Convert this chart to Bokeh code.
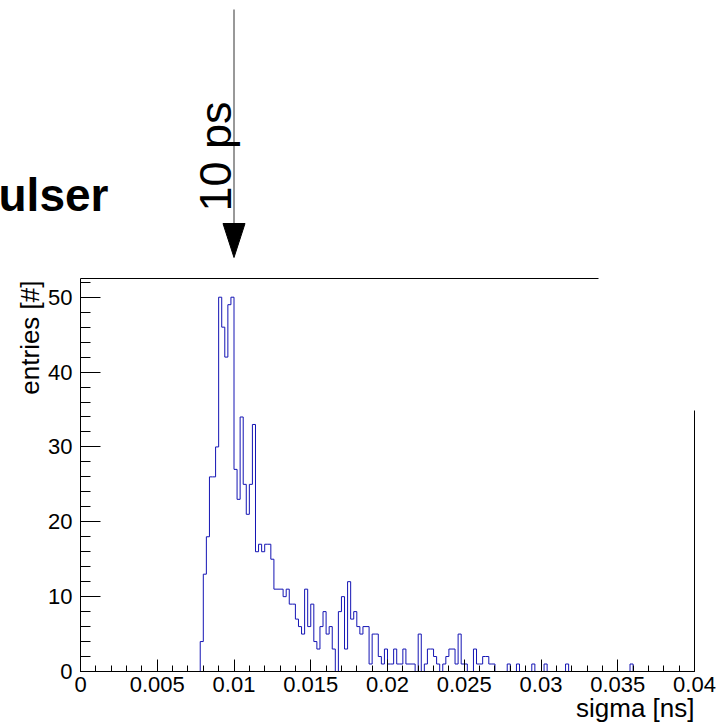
import numpy as np
from bokeh.plotting import figure
from bokeh.models import Range1d, FixedTicker, Label
from bokeh.embed import file_html
from bokeh.resources import INLINE

# ---------------- data ----------------
title_text = "ulser"
x_title = "sigma [ns]"
y_title = "entries [#]"
arrow_text = "10 ps"
arrow_x = 0.01          # ns (10 ps marker)

n_bins = 200
x_min, x_max = 0.0, 0.04
y_max = 52.5
first_bin = 39
counts = [4, 13, 18, 26, 26, 30, 50, 46, 42, 49,          # 39-48
          50, 27, 23, 34, 25, 21, 25, 33, 16, 17,         # 49-58
          16, 17, 17, 15, 11, 11, 11, 10, 11, 9,          # 59-68
          9, 7, 6, 5, 11, 6, 9, 4, 3, 6,                  # 69-78
          8, 5, 6, 3, 0, 8, 10, 3, 12, 7,                 # 79-88
          8, 6, 5, 6, 6, 1, 5, 5, 2, 1,                   # 89-98
          3, 1, 1, 3, 1, 1, 3, 1, 1, 1,                   # 99-108
          0, 5, 0, 1, 3, 3, 2, 1, 0, 1,                   # 109-118
          2, 3, 3, 1, 5, 1, 1, 0, 0, 3,                   # 119-128
          1, 1, 2, 2, 1, 1, 0, 0, 0, 0,                   # 129-138
          1, 0, 0, 1, 0, 0, 0, 0, 1, 0,                   # 139-148
          0, 0, 1, 0, 0, 0, 0, 0, 0, 1,                   # 149-158
          0, 0, 0, 0, 0, 0, 0, 0, 0, 0,                   # 159-168
          0, 0, 0, 0, 0, 0, 0, 0, 0, 0,                   # 169-178
          1]                                              # 179

x_ticks = [0, 0.005, 0.01, 0.015, 0.02, 0.025, 0.03, 0.035, 0.04]
x_tick_labels = ["0", "0.005", "0.01", "0.015", "0.02", "0.025", "0.03", "0.035", "0.04"]
y_ticks = [0, 10, 20, 30, 40, 50]
y_tick_labels = ["0", "10", "20", "30", "40", "50"]

# ---------------- layout constants ----------------
W, H = 717, 722
BL, BR, BT, BB = 80, 23, 278, 51      # frame of the histogram inside the canvas
FONT = "Liberation Sans"
HIST_COLOR = "#1414b4"
BASE_SHIFT = 0.34                     # em correction for text baseline placement

fw = W - BL - BR
fh = H - BT - BB
dx = (x_max - x_min) / fw
dy = y_max / fh

def px_x(px):
    return x_min + (px - BL) * dx

def px_y(py):
    return (H - BB - py) * dy

full = np.zeros(n_bins)
full[first_bin:first_bin + len(counts)] = counts
edges = np.linspace(x_min, x_max, n_bins + 1)
ys = np.append(full, full[-1])

# the plotting frame covers the whole canvas; axes are pinned with fixed_location
p = figure(width=W, height=H,
           x_range=Range1d(px_x(0), px_x(W)), y_range=Range1d(px_y(H), px_y(0)),
           output_backend="svg", toolbar_location=None,
           min_border=0, min_border_left=0, min_border_right=0,
           min_border_top=0, min_border_bottom=0)
p.title.text = ""
p.title.visible = False
p.xgrid.visible = False
p.ygrid.visible = False
p.outline_line_color = None
p.background_fill_color = "white"
p.border_fill_color = "white"

p.step(edges, ys, mode="after", line_color=HIST_COLOR, line_width=1)

# partial frame lines (top and right)
p.segment(x0=[x_min], y0=[y_max], x1=[px_x(598)], y1=[y_max], line_color="black", line_width=1)
p.segment(x0=[x_max], y0=[0], x1=[x_max], y1=[px_y(410)], line_color="black", line_width=1)

# axes
xa = p.xaxis[0]
xa.fixed_location = 0
xa.bounds = (x_min, x_max)
xa.ticker = FixedTicker(ticks=x_ticks, minor_ticks=[round(v, 4) for v in np.arange(0, 0.0401, 0.001)])
xa.major_label_overrides = {t: l for t, l in zip(x_ticks, x_tick_labels)}
xa.major_tick_in = 12
xa.major_tick_out = 0
xa.minor_tick_in = 6
xa.minor_tick_out = 0
xa.major_label_standoff = 5
ya = p.yaxis[0]
ya.fixed_location = 0
ya.bounds = (0, y_max)
ya.ticker = FixedTicker(ticks=y_ticks, minor_ticks=list(range(0, 53, 2)))
ya.major_label_overrides = {t: l for t, l in zip(y_ticks, y_tick_labels)}
ya.major_tick_in = 20
ya.major_tick_out = 0
ya.minor_tick_in = 10
ya.minor_tick_out = 0
ya.major_label_standoff = 8
for ax in (xa, ya):
    ax.axis_line_color = "black"
    ax.major_tick_line_color = "black"
    ax.minor_tick_line_color = "black"
    ax.major_label_text_font = FONT
    ax.major_label_text_font_size = "22px"
    ax.major_label_text_color = "black"

# axis titles
p.add_layout(Label(x=x_max, y=px_y(716 - BASE_SHIFT * 26), text=x_title, text_align="right",
                   text_baseline="alphabetic", text_font=FONT, text_font_size="26px",
                   text_color="black"))
p.add_layout(Label(x=px_x(38 - BASE_SHIFT * 26), y=px_y(280), text=y_title, angle=np.pi / 2,
                   text_align="right", text_baseline="alphabetic", text_font=FONT,
                   text_font_size="26px", text_color="black"))

# title
p.add_layout(Label(x=px_x(-2), y=px_y(210 - BASE_SHIFT * 46), text=title_text, text_align="left",
                   text_baseline="alphabetic", text_font=FONT, text_font_size="46px",
                   text_font_style="bold", text_color="black"))

# arrow marking 10 ps
p.segment(x0=[arrow_x], y0=[px_y(9)], x1=[arrow_x], y1=[px_y(225)], line_color="#333333", line_width=1)
hw = 11 * dx
p.patch(x=[arrow_x - hw, arrow_x + hw, arrow_x], y=[px_y(223), px_y(223), px_y(257)],
        fill_color="black", line_color="black", line_width=1)
p.add_layout(Label(x=arrow_x - (BASE_SHIFT * 45 + 3) * dx, y=px_y(211), text=arrow_text, angle=np.pi / 2,
                   text_align="left", text_baseline="alphabetic", text_font=FONT,
                   text_font_size="45px", text_color="black"))

open("out.html", "w").write(file_html(p, INLINE))
